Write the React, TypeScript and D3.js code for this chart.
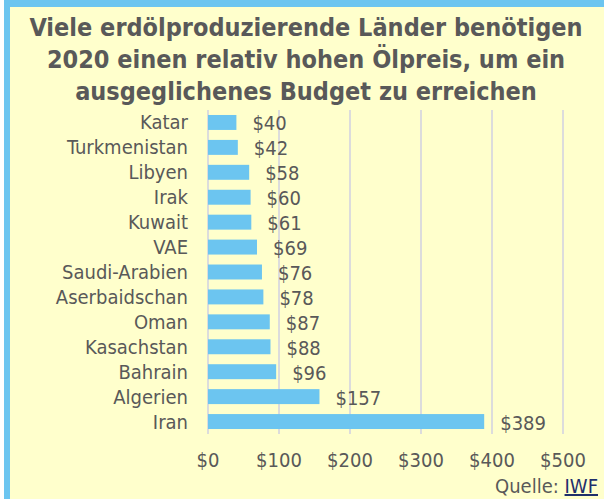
import React, { useEffect, useRef } from 'react';
import * as d3 from 'd3';

const countries = [
  'Katar', 'Turkmenistan', 'Libyen', 'Irak', 'Kuwait', 'VAE', 'Saudi-Arabien',
  'Aserbaidschan', 'Oman', 'Kasachstan', 'Bahrain', 'Algerien', 'Iran',
];
const prices = [40, 42, 58, 60, 61, 69, 76, 78, 87, 88, 96, 157, 389];
const ticks = [0, 100, 200, 300, 400, 500];
const titleLines = [
  'Viele erdölproduzierende Länder benötigen',
  '2020 einen relativ hohen Ölpreis, um ein',
  'ausgeglichenes Budget zu erreichen',
];

const W = 604;
const H = 499;
const FONT = "Tahoma, 'DejaVu Sans Condensed', 'DejaVu Sans', sans-serif";
const TEXT = '#595959';

export default function App() {
  const ref = useRef<SVGSVGElement>(null);

  useEffect(() => {
    if (!ref.current) return;
    const svg = d3.select(ref.current);
    svg.selectAll('*').remove();

    // background + frame
    svg.append('rect').attr('width', W).attr('height', H).attr('fill', '#ffffff');
    svg.append('rect').attr('x', 4).attr('y', 0).attr('width', W - 4).attr('height', H).attr('fill', '#ffffcc');
    svg.append('rect').attr('x', 4).attr('y', 0).attr('width', W - 4).attr('height', 7).attr('fill', '#6cc5f0');
    svg.append('rect').attr('x', 4).attr('y', 0).attr('width', 6).attr('height', H).attr('fill', '#6cc5f0');

    // title
    const titleY = [36, 68, 100];
    svg.selectAll('.title')
      .data(titleLines)
      .enter().append('text')
      .attr('class', 'title')
      .attr('x', 306)
      .attr('y', (_, i) => titleY[i])
      .attr('text-anchor', 'middle')
      .style('font-family', FONT)
      .style('font-weight', 'bold')
      .style('font-size', '25px')
      .style('fill', TEXT)
      .text(d => d);

    const x = d3.scaleLinear().domain([0, 500]).range([208, 563]);
    const y = d3.scaleBand().domain(countries).range([110, 434]).paddingInner(0.4).paddingOuter(0.2);

    // gridlines
    svg.selectAll('.grid')
      .data(ticks)
      .enter().append('line')
      .attr('class', 'grid')
      .attr('x1', d => x(d)).attr('x2', d => x(d))
      .attr('y1', 110).attr('y2', 434)
      .attr('stroke', '#dcdcdc')
      .attr('stroke-width', 2);

    // bars
    const data = countries.map((c, i) => ({ c, v: prices[i] }));
    svg.selectAll('.bar')
      .data(data)
      .enter().append('rect')
      .attr('class', 'bar')
      .attr('x', x(0))
      .attr('y', d => y(d.c)!)
      .attr('width', d => x(d.v) - x(0))
      .attr('height', y.bandwidth())
      .attr('fill', '#6cc5f0');

    // value labels
    svg.selectAll('.val')
      .data(data)
      .enter().append('text')
      .attr('class', 'val')
      .attr('x', d => x(d.v) + 16)
      .attr('y', d => y(d.c)! + y.bandwidth() / 2 + 8)
      .style('font-family', FONT)
      .style('font-size', '20px')
      .style('fill', TEXT)
      .text(d => `$${d.v}`);

    // category labels
    svg.selectAll('.cat')
      .data(countries)
      .enter().append('text')
      .attr('class', 'cat')
      .attr('x', 188)
      .attr('y', d => y(d)! + y.bandwidth() / 2 + 7)
      .attr('text-anchor', 'end')
      .style('font-family', FONT)
      .style('font-size', '20px')
      .style('fill', TEXT)
      .text(d => d);

    // x tick labels
    svg.selectAll('.tick-label')
      .data(ticks)
      .enter().append('text')
      .attr('class', 'tick-label')
      .attr('x', d => x(d))
      .attr('y', 467)
      .attr('text-anchor', 'middle')
      .style('font-family', FONT)
      .style('font-size', '20px')
      .style('fill', TEXT)
      .text(d => `$${d}`);

    // source
    const src = svg.append('text')
      .attr('x', 598)
      .attr('y', 493)
      .attr('text-anchor', 'end')
      .style('font-family', FONT)
      .style('font-size', '20px');
    src.append('tspan').style('fill', TEXT).text('Quelle: ');
    src.append('tspan').style('fill', '#1f2f6b').style('text-decoration', 'underline').text('IWF');
  }, []);

  return (
    <svg
      ref={ref}
      width={W}
      height={H}
      style={{ position: 'absolute', left: 0, top: 0, display: 'block' }}
    />
  );
}
